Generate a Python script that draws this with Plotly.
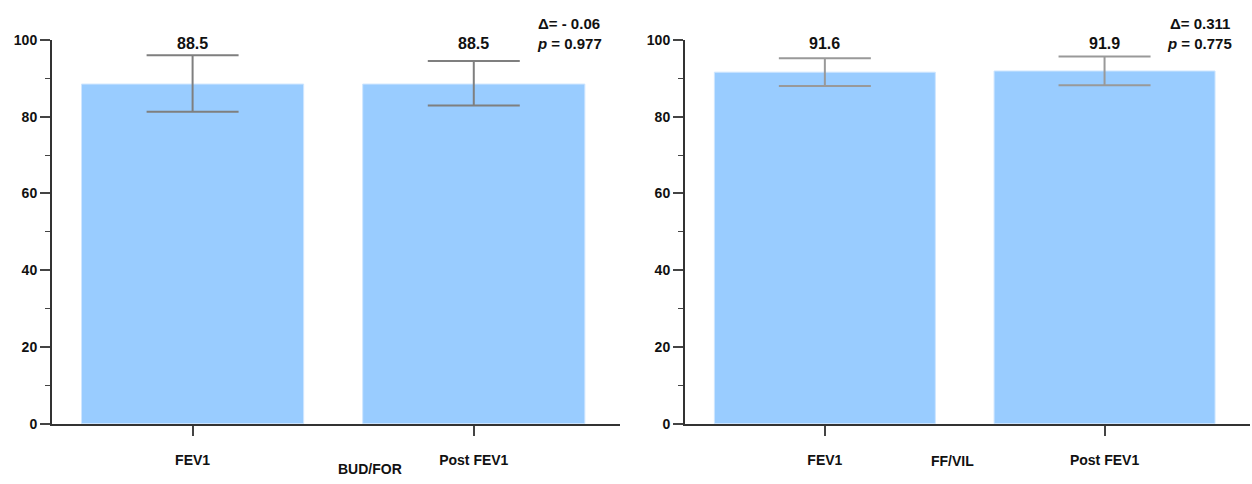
import plotly.graph_objects as go
from plotly.subplots import make_subplots

categories = ["FEV1", "Post FEV1"]
bud_values = [88.5, 88.5]
bud_err_plus = [7.5, 6.0]
bud_err_minus = [7.2, 5.6]
ffv_values = [91.6, 91.9]
ffv_err_plus = [3.6, 3.8]
ffv_err_minus = [3.6, 3.7]
group_names = ["BUD/FOR", "FF/VIL"]
delta_text = ["Δ= - 0.06", "Δ= 0.311"]
p_text = ["0.977", "0.775"]
y_ticks = [0, 20, 40, 60, 80, 100]

BAR = "#99CCFF"
FONT = "Liberation Sans, Arial, sans-serif"

fig = make_subplots(rows=1, cols=2)

panels = [
    (bud_values, bud_err_plus, bud_err_minus, "#7f7f7f"),
    (ffv_values, ffv_err_plus, ffv_err_minus, "#999999"),
]
for i, (vals, ep, em, ecol) in enumerate(panels):
    fig.add_trace(go.Bar(
        x=categories, y=vals, width=0.79,
        marker=dict(color=BAR, line=dict(color="#cfe6ff", width=1)),
        error_y=dict(type="data", symmetric=False, array=ep, arrayminus=em,
                     color=ecol, thickness=2, width=46),
        showlegend=False, hoverinfo="skip",
    ), row=1, col=i + 1)
    xr = "x" if i == 0 else "x2"
    ydr = "y domain" if i == 0 else "y2 domain"
    for c, v in zip(categories, vals):
        fig.add_annotation(x=c, y=0.99, xref=xr, yref=ydr, text=f"<b>{v}</b>",
                           showarrow=False, font=dict(size=16, color="#111", family=FONT),
                           yanchor="middle")
    fig.add_annotation(x=1.34, y=1.042, xref=xr, yref=ydr, text=f"<b>{delta_text[i]}</b>",
                       showarrow=False, yanchor="middle",
                       font=dict(size=15, color="#111", family=FONT))
    fig.add_annotation(x=1.34, y=0.99, xref=xr, yref=ydr,
                       text=f"<b><i>p</i> = {p_text[i]}</b>",
                       showarrow=False, yanchor="middle",
                       font=dict(size=15, color="#111", family=FONT))

fig.add_annotation(x=336 / 1252, y=1 - 477 / 484, xref="paper", yref="paper",
                   text=f"<b>{group_names[0]}</b>", showarrow=False,
                   font=dict(size=14, color="#111", family=FONT), yanchor="middle")
fig.add_annotation(x=976 / 1252, y=1 - 468 / 484, xref="paper", yref="paper",
                   text=f"<b>{group_names[1]}</b>", showarrow=False,
                   font=dict(size=14, color="#111", family=FONT), yanchor="middle")

xdom = [[52 / 1252, 620 / 1252], [685 / 1252, 1250 / 1252]]
ydom = [1 - 430 / 484, 1 - 33 / 484]
for i in range(2):
    xk = "xaxis" if i == 0 else "xaxis2"
    yk = "yaxis" if i == 0 else "yaxis2"
    fig.layout[xk].update(
        domain=xdom[i], range=[-0.5, 1.52], showline=True, linecolor="#333",
        linewidth=2, ticks="outside", ticklen=10, tickwidth=2, tickcolor="#444",
        showgrid=False, zeroline=False, layer="below traces", ticklabelstandoff=12,
        tickfont=dict(size=14, color="#111", family=FONT),
        tickvals=categories, ticktext=[f"<b>{c}</b>" for c in categories],
    )
    fig.layout[yk].update(
        domain=ydom, range=[0, 100], showline=True, linecolor="#333",
        linewidth=2, ticks="outside", ticklen=10, tickwidth=2, tickcolor="#444",
        showgrid=False, zeroline=False, tickvals=y_ticks,
        ticktext=[f"<b>{t}</b>" for t in y_ticks],
        tickfont=dict(size=14, color="#111", family=FONT),
        minor=dict(dtick=10, ticks="outside", ticklen=5, tickwidth=1, tickcolor="#444"),
    )

fig.update_layout(
    width=1252, height=484, margin=dict(l=0, r=0, t=0, b=0),
    paper_bgcolor="white", plot_bgcolor="white", bargap=0.21,
    font=dict(family=FONT),
)
fig.write_html("out.html", config={"displayModeBar": False},
               post_script="document.body.style.margin='0';document.body.style.overflow='hidden';")
